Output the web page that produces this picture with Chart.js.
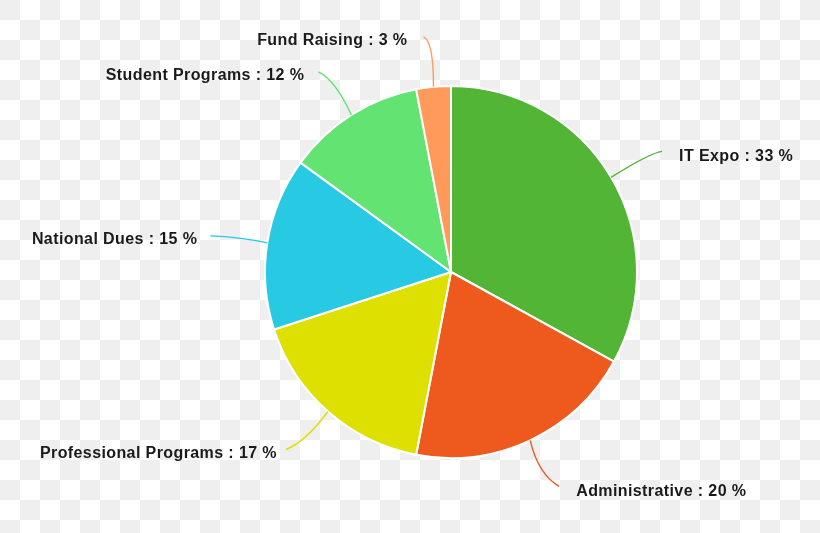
<!DOCTYPE html>
<html>
<head>
<meta charset="utf-8">
<script src="https://cdn.jsdelivr.net/npm/chart.js@4.4.1/dist/chart.umd.min.js"></script>
<style>
    html, body { margin: 0; padding: 0; }
    #wrap {
        width: 820px;
        height: 533px;
        background: conic-gradient(#fff 0 25%, #efefef 0 50%, #fff 0 75%, #efefef 0) 0 0 / 40px 40px;
    }
</style>
</head>
<body>
<div id="wrap"><canvas id="budgetChart" width="820" height="533"></canvas></div>
<script>
// Budget categories, clockwise from the top
const categories = ['IT Expo', 'Administrative', 'Professional Programs', 'National Dues', 'Student Programs', 'Fund Raising'];
const shares = [33, 20, 17, 15, 12, 3];
const sliceColors = ['#52b535', '#ee5a1e', '#dde000', '#27c9e3', '#62e372', '#ff9a5a'];

// leader line: end offset, curve control offset (from slice edge point), text side, gap to text
const leaderLayout = [
    { end: [51, -26], ctrl: [38, -24], side: 'right', gap: 17 },
    { end: [29, 46], ctrl: [8, 34], side: 'right', gap: 17 },
    { end: [-42, 38], ctrl: [-22, 30], side: 'left', gap: 9 },
    { end: [-57, -7], ctrl: [-28, -6], side: 'left', gap: 13 },
    { end: [-33, -43], ctrl: [-16, -35], side: 'left', gap: 14 },
    { end: [-10, -50], ctrl: [0, -46], side: 'left', gap: 16 }
];

const outsideLabels = {
    id: 'outsideLabels',
    afterDraw(chart) {
        const ctx = chart.ctx;
        const arcs = chart.getDatasetMeta(0).data;
        ctx.save();
        ctx.font = 'bold 16px "Liberation Sans", Arial, sans-serif';
        ctx.letterSpacing = '0.4px';
        ctx.textBaseline = 'middle';
        arcs.forEach((arc, i) => {
            const p = arc.getProps(['x', 'y', 'startAngle', 'endAngle', 'outerRadius'], true);
            const mid = (p.startAngle + p.endAngle) / 2;
            const ax = p.x + Math.cos(mid) * p.outerRadius;
            const ay = p.y + Math.sin(mid) * p.outerRadius;
            const lay = leaderLayout[i];
            const ex = ax + lay.end[0], ey = ay + lay.end[1];

            ctx.strokeStyle = sliceColors[i];
            ctx.lineWidth = 1.4;
            ctx.beginPath();
            ctx.moveTo(ax, ay);
            ctx.quadraticCurveTo(ax + lay.ctrl[0], ay + lay.ctrl[1], ex, ey);
            ctx.stroke();

            const text = categories[i] + ' : ' + shares[i] + ' %';
            ctx.fillStyle = '#1a1a1a';
            if (lay.side === 'right') {
                ctx.textAlign = 'left';
                ctx.fillText(text, ex + lay.gap, ey + 5);
            } else {
                ctx.textAlign = 'right';
                ctx.fillText(text, ex - lay.gap, ey + 4);
            }
        });
        ctx.restore();
    }
};

new Chart(document.getElementById('budgetChart'), {
    type: 'pie',
    data: {
        labels: categories,
        datasets: [{
            data: shares,
            backgroundColor: sliceColors,
            borderColor: '#ffffff',
            borderWidth: 2
        }]
    },
    options: {
        responsive: false,
        animation: false,
        layout: { padding: { top: 85, bottom: 74, left: 264, right: 182 } },
        plugins: {
            legend: { display: false },
            tooltip: { enabled: false }
        }
    },
    plugins: [outsideLabels]
});
</script>
</body>
</html>
